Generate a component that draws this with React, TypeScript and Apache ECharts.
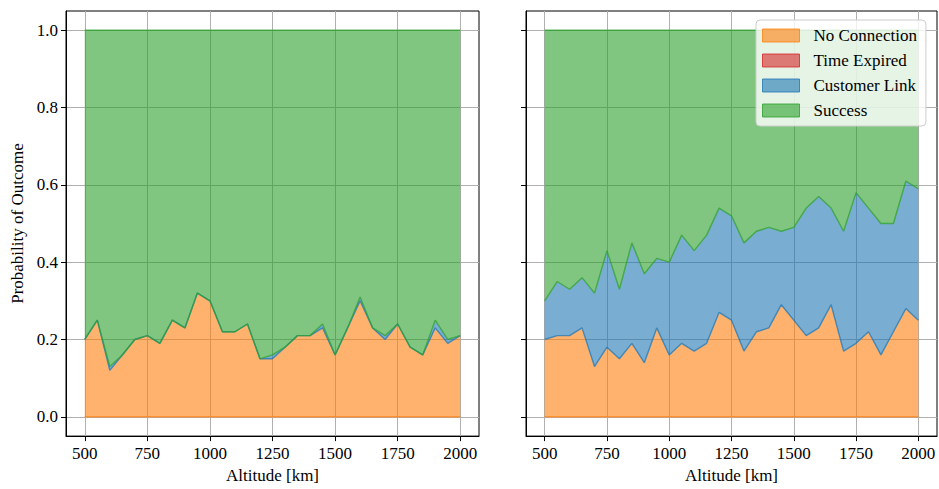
import React, { useEffect, useRef } from "react";
import * as echarts from "echarts";

const altitudes = [500, 550, 600, 650, 700, 750, 800, 850, 900, 950, 1000, 1050, 1100, 1150, 1200, 1250, 1300, 1350, 1400, 1450, 1500, 1550, 1600, 1650, 1700, 1750, 1800, 1850, 1900, 1950, 2000];

// Left panel
const noConnLeft = [0.20, 0.25, 0.12, 0.16, 0.20, 0.21, 0.19, 0.25, 0.23, 0.32, 0.30, 0.22, 0.22, 0.24, 0.15, 0.15, 0.18, 0.21, 0.21, 0.23, 0.16, 0.23, 0.30, 0.23, 0.20, 0.24, 0.18, 0.16, 0.23, 0.19, 0.21];
const timeExpLeft = [0, 0, 0, 0, 0, 0, 0, 0, 0, 0, 0, 0, 0, 0, 0, 0, 0, 0, 0, 0, 0, 0, 0, 0, 0, 0, 0, 0, 0, 0, 0];
const custLeft = [0, 0, 0.01, 0, 0, 0, 0, 0, 0, 0, 0, 0, 0, 0, 0, 0.01, 0, 0, 0, 0.01, 0, 0, 0.01, 0, 0.01, 0, 0, 0, 0.02, 0.01, 0];
const successLeft = [0.80, 0.75, 0.87, 0.84, 0.80, 0.79, 0.81, 0.75, 0.77, 0.68, 0.70, 0.78, 0.78, 0.76, 0.85, 0.84, 0.82, 0.79, 0.79, 0.76, 0.84, 0.77, 0.69, 0.77, 0.79, 0.76, 0.82, 0.84, 0.75, 0.80, 0.79];

// Right panel
const noConnRight = [0.20, 0.21, 0.21, 0.23, 0.13, 0.18, 0.15, 0.19, 0.14, 0.23, 0.16, 0.19, 0.17, 0.19, 0.27, 0.25, 0.17, 0.22, 0.23, 0.29, 0.25, 0.21, 0.23, 0.29, 0.17, 0.19, 0.22, 0.16, 0.22, 0.28, 0.25];
const timeExpRight = [0, 0, 0, 0, 0, 0, 0, 0, 0, 0, 0, 0, 0, 0, 0, 0, 0, 0, 0, 0, 0, 0, 0, 0, 0, 0, 0, 0, 0, 0, 0];
const custRight = [0.10, 0.14, 0.12, 0.13, 0.19, 0.25, 0.18, 0.26, 0.23, 0.18, 0.24, 0.28, 0.26, 0.28, 0.27, 0.27, 0.28, 0.26, 0.26, 0.19, 0.24, 0.33, 0.34, 0.25, 0.31, 0.39, 0.32, 0.34, 0.28, 0.33, 0.34];
const successRight = [0.70, 0.65, 0.67, 0.64, 0.68, 0.57, 0.67, 0.55, 0.63, 0.59, 0.60, 0.53, 0.57, 0.53, 0.46, 0.48, 0.55, 0.52, 0.51, 0.52, 0.51, 0.46, 0.43, 0.46, 0.52, 0.42, 0.46, 0.50, 0.50, 0.39, 0.41];

const xTicks = [500, 750, 1000, 1250, 1500, 1750, 2000];
const yTicks = [0, 0.2, 0.4, 0.6, 0.8, 1.0];

const seriesNames = ["No Connection", "Time Expired", "Customer Link", "Success"];
const baseColors = ["255,127,14", "214,39,40", "31,119,180", "44,160,44"];
const fill = (c: string) => `rgba(${c},0.6)`;

const FONT = "Liberation Serif";

function App() {
  const ref = useRef<HTMLDivElement>(null);
  useEffect(() => {
    if (!ref.current) return;
    const chart = echarts.init(ref.current, undefined, { renderer: "svg" });

    const panels = [
      [noConnLeft, timeExpLeft, custLeft, successLeft],
      [noConnRight, timeExpRight, custRight, successRight],
    ];
    const grids = [
      { left: 66, top: 11, width: 413, height: 427 },
      { left: 526, top: 11, width: 411, height: 427 },
    ];

    const series: any[] = [];
    panels.forEach((layers, gi) => {
      layers.forEach((arr, li) => {
        series.push({
          type: "line",
          name: seriesNames[li],
          xAxisIndex: gi,
          yAxisIndex: gi,
          stack: "s" + gi,
          symbol: "none",
          showSymbol: false,
          // value first so that it is the stacked dimension; altitude second
          data: altitudes.map((x, i) => [arr[i], x]),
          encode: { x: 1, y: 0 },
          lineStyle: { width: 0, opacity: 0 },
          itemStyle: { color: fill(baseColors[li]) },
          areaStyle: { color: fill(baseColors[li]), opacity: 1 },
          z: 2,
        });
      });
      // polygon edges as matplotlib draws them (last drawn wins)
      const zero = altitudes.map(() => 0);
      const cumA = layers[0].map((v, i) => v + layers[1][i]);
      const cumB = cumA.map((v, i) => v + layers[2][i]);
      const cumC = cumB.map((v, i) => v + layers[3][i]);
      const edges: [number[], number][] = [
        [zero, 0],
        [cumA, 2],
        [cumB, 3],
        [cumC, 3],
      ];
      edges.forEach(([arr, ci], ei) => {
        series.push({
          type: "line",
          name: "_edge" + gi + "_" + ei,
          xAxisIndex: gi,
          yAxisIndex: gi,
          symbol: "none",
          showSymbol: false,
          silent: true,
          data: altitudes.map((x, i) => [x, arr[i]]),
          lineStyle: { color: `rgba(${baseColors[ci]},0.75)`, width: 1.4 },
          z: 3,
        });
      });
    });

    const textBase = { fontFamily: FONT, fontSize: 17, color: "#000" };

    const option: any = {
      animation: false,
      grid: grids.map((g) => ({ ...g, show: true, borderColor: "#000", borderWidth: 1, backgroundColor: "transparent" })),
      xAxis: grids.map((_, gi) => ({
        type: "value",
        gridIndex: gi,
        min: 425,
        max: 2075,
        name: "Altitude [km]",
        nameLocation: "middle",
        nameGap: 30,
        nameTextStyle: textBase,
        axisLine: { show: true, onZero: false, lineStyle: { color: "#000", width: 1 } },
        axisTick: { show: true, length: 5, customValues: xTicks, lineStyle: { color: "#000", width: 1 } },
        axisLabel: { ...textBase, margin: 9, customValues: xTicks, formatter: (v: number) => String(v) },
        splitLine: { show: true, lineStyle: { color: "#b0b0b0", width: 1 } },
      })),
      yAxis: grids.map((_, gi) => ({
        type: "value",
        gridIndex: gi,
        min: -0.05,
        max: 1.05,
        name: gi === 0 ? "Probability of Outcome" : "",
        nameLocation: "middle",
        nameGap: 40,
        nameTextStyle: textBase,
        axisLine: { show: true, onZero: false, lineStyle: { color: "#000", width: 1 } },
        axisTick: { show: true, length: 5, customValues: yTicks, lineStyle: { color: "#000", width: 1 } },
        axisLabel: {
          ...textBase,
          show: gi === 0,
          margin: 8,
          customValues: yTicks,
          formatter: (v: number) => v.toFixed(1),
        },
        splitLine: { show: true, lineStyle: { color: "#b0b0b0", width: 1 } },
      })),
      legend: {
        orient: "vertical",
        left: 756,
        top: 20,
        icon: "rect",
        itemWidth: 37,
        itemHeight: 13,
        itemGap: 8,
        padding: [7, 9, 7, 6],
        backgroundColor: "rgba(255,255,255,0.8)",
        borderColor: "#cccccc",
        borderWidth: 1,
        borderRadius: 4,
        textStyle: { ...textBase, lineHeight: 17, padding: [0, 0, 0, 9] },
        data: seriesNames.map((n, i) => ({
          name: n,
          itemStyle: { color: fill(baseColors[i]), borderColor: `rgba(${baseColors[i]},0.8)`, borderWidth: 1 },
        })),
      },
      series,
    };
    chart.setOption(option);
    return () => chart.dispose();
  }, []);
  return <div ref={ref} style={{ position: "absolute", left: 0, top: 0, width: 939, height: 489 }} />;
}

export default App;
